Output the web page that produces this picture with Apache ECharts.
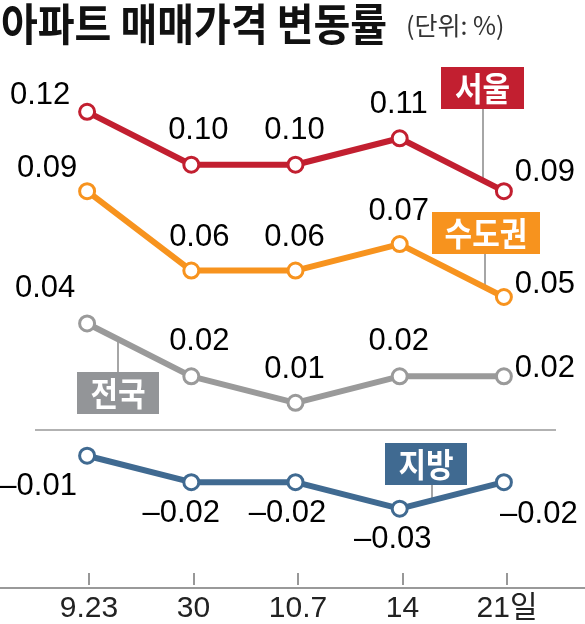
<!DOCTYPE html>
<head>
  <meta charset="utf-8">
  <title>아파트 매매가격 변동률</title>
  <script src="https://cdn.jsdelivr.net/npm/echarts@6/dist/echarts.min.js"></script>
  <style>
    html, body { margin: 0; padding: 0; background: #fff; }
    #main { width: 585px; height: 624px; }
  </style>
</head>
<body>
  <div id="main"></div>
  <script>
    // weekly dates and change rates (%)
    var dates = ['9.23', '30', '10.7', '14', '21일'];
    var seoul = [0.12, 0.10, 0.10, 0.11, 0.09];
    var metro = [0.09, 0.06, 0.06, 0.07, 0.05];
    var nation = [0.04, 0.02, 0.01, 0.02, 0.02];
    var local = [-0.01, -0.02, -0.02, -0.03, -0.02];

    var numFont = '"Liberation Sans", Arial, sans-serif';
    var krFont = '"Noto Sans CJK KR", sans-serif';

    // label nudges per point (px from the marker)
    var labelOffsets = {
      seoul:  [[-47, -16], [7, -34], [-1, -34], [-1, -34], [41, -19]],
      metro:  [[-40, -23], [8, -33], [-1, -33], [-1, -33], [41, -13]],
      nation: [[-42, -35], [8, -35], [-1, -33], [-1, -35], [41, -8]],
      local:  [[-49, 31], [-10, 31], [-8, 31], [-7, 31], [35, 32]]
    };

    function fmt(p) {
      var v = p.value;
      return v < 0 ? '–' + Math.abs(v).toFixed(2) : v.toFixed(2);
    }

    function makeLine(name, values, color, offs) {
      return {
        name: name,
        type: 'line',
        xAxisIndex: 0,
        yAxisIndex: 0,
        data: values.map(function (v, i) {
          return { value: v, label: { offset: offs[i] } };
        }),
        symbol: 'circle',
        symbolSize: 15,
        showAllSymbol: true,
        lineStyle: { color: color, width: 6 },
        itemStyle: { color: '#fff', borderColor: color, borderWidth: 3 },
        label: {
          show: true,
          position: 'inside',
          formatter: fmt,
          fontFamily: numFont,
          fontSize: 31,
          color: '#000'
        },
        emphasis: { disabled: true },
        animation: false
      };
    }

    var boxes = [
      { text: '서울', x: 441, y: 67, w: 83, h: 42, color: '#c21f30', lx: 483, ly1: 109, ly2: 178 },
      { text: '수도권', x: 432, y: 212, w: 108, h: 42, color: '#f7931e', lx: 485, ly1: 254, ly2: 287 },
      { text: '전국', x: 77, y: 372, w: 82, h: 42, color: '#939598', lx: 118, ly1: 337, ly2: 372 },
      { text: '지방', x: 385, y: 443, w: 82, h: 42, color: '#406a91', lx: 432, ly1: 485, ly2: 500 }
    ];

    var graphics = [
      {
        type: 'text', x: 1, y: 2, scaleY: 1.12,
        style: { text: '아파트 매매가격 변동률', font: 'bold 40px ' + krFont, fill: '#111', textVerticalAlign: 'top' }
      },
      {
        type: 'text', x: 406, y: 25,
        style: { text: '(단위: %)', font: '25px ' + krFont, fill: '#333', textVerticalAlign: 'middle' }
      }
    ];
    boxes.forEach(function (b) {
      graphics.push({
        type: 'line', z: 1,
        shape: { x1: b.lx, y1: b.ly1, x2: b.lx, y2: b.ly2 },
        style: { stroke: '#888', lineWidth: 1.5 }
      });
      graphics.push({
        type: 'rect', z: 5,
        shape: { x: b.x, y: b.y, width: b.w, height: b.h },
        style: { fill: b.color }
      });
      graphics.push({
        type: 'text', z: 6,
        x: b.x + b.w / 2, y: b.y + b.h / 2, scaleY: 1.1,
        style: {
          text: b.text, font: 'bold 30px ' + krFont, fill: '#fff',
          textAlign: 'center', textVerticalAlign: 'middle'
        }
      });
    });

    var seoulLine = makeLine('서울', seoul, '#c21f30', labelOffsets.seoul);
    var metroLine = makeLine('수도권', metro, '#f7931e', labelOffsets.metro);
    var nationLine = makeLine('전국', nation, '#9a9a9a', labelOffsets.nation);
    var localLine = makeLine('지방', local, '#406a91', labelOffsets.local);
    nationLine.markLine = {
      silent: true,
      symbol: 'none',
      label: { show: false },
      lineStyle: { color: '#999', width: 1.5, type: 'solid' },
      data: [{ yAxis: 0 }]
    };

    var myChart = echarts.init(document.getElementById('main'));
    var option = {
      backgroundColor: '#fff',
      animation: false,
      grid: [
        { left: 35, right: 29, top: 6, bottom: 36 },
        { left: 89, right: 78, top: 6, bottom: 36 },
        { left: 0, right: 0, top: 6, bottom: 36 }
      ],
      xAxis: [
        { type: 'category', gridIndex: 0, data: dates, boundaryGap: true, show: false },
        {
          type: 'category', gridIndex: 1, data: dates, boundaryGap: false,
          axisLine: { show: false, onZero: false },
          axisTick: { show: true, inside: true, length: 12, lineStyle: { color: '#777', width: 1.5 } },
          axisLabel: { margin: 9, fontSize: 30, color: '#222', fontFamily: numFont + ', ' + krFont }
        },
        {
          type: 'value', gridIndex: 2, min: 0, max: 1,
          axisLine: { show: true, onZero: false, lineStyle: { color: '#777', width: 1.5 } },
          axisTick: { show: false }, axisLabel: { show: false }, splitLine: { show: false }
        }
      ],
      yAxis: [
        { type: 'value', gridIndex: 0, min: -0.06, max: 0.16, show: false },
        { type: 'value', gridIndex: 1, min: 0, max: 1, show: false },
        { type: 'value', gridIndex: 2, min: 0, max: 1, show: false }
      ],
      graphic: graphics,
      series: [nationLine, localLine, metroLine, seoulLine]
    };
    myChart.setOption(option);
  </script>
</body>
